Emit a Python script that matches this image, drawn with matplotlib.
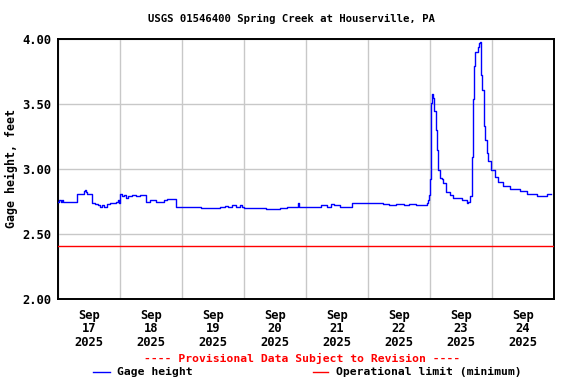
import matplotlib
matplotlib.use("Agg")
import matplotlib.pyplot as plt
from matplotlib.lines import Line2D

title = "USGS 01546400 Spring Creek at Houserville, PA"
ylabel = "Gage height, feet"
provisional = "---- Provisional Data Subject to Revision ----"
legend_labels = ["Gage height", "Operational limit (minimum)"]
day_labels = ["Sep\n17\n2025", "Sep\n18\n2025", "Sep\n19\n2025", "Sep\n20\n2025",
              "Sep\n21\n2025", "Sep\n22\n2025", "Sep\n23\n2025", "Sep\n24\n2025"]
yticks = [2.00, 2.50, 3.00, 3.50, 4.00]
op_limit = 2.41

# hours since Sep 17 00:00
hours = [0, 0.4, 1.2, 1.5, 2, 7.4, 7.5, 9.7, 10.0, 10.5, 10.8, 11.2, 13.0, 13.2, 14.3, 15.5,
         16.3, 17.0, 17.8, 19.0, 20.1, 21.3, 22.4, 23.2, 23.6, 24.0, 24.8, 25.5, 26.3, 27.1,
         28.6, 30.2, 31.7, 33.7, 33.9, 34.8, 35.6, 37.2, 37.9, 39.9, 41.0, 42.2, 45.5, 45.7,
         55.0, 55.4, 62.7, 64.5, 66.0, 67.5, 69.0, 70.5, 71.2, 72.0, 80.0, 80.4, 86.0, 88.5,
         92.9, 93.4, 96.0, 100.2, 102.0, 104.0, 105.5, 107.0, 109.0, 111.8, 114.0, 120.0,
         121.0, 125.8, 128.0, 131.0, 134.0, 136.0, 138.5, 140.0, 142.0, 142.8, 143.3, 143.6,
         143.9, 144.2, 144.4, 144.7, 145.1, 145.6, 146.2, 146.6, 147.2, 147.8, 148.5, 149.1,
         150.2, 151.7, 153.0, 156.2, 158.2, 158.7, 159.4, 160.1, 160.3, 160.7, 161.1, 161.6,
         162.4, 162.9, 163.3, 163.7, 164.3, 164.9, 165.0, 165.3, 165.9, 166.6, 167.8, 169.1,
         170.4, 172.3, 174.9, 178.8, 181.4, 185.3, 187.2, 189.1, 191.0]
gage = [2.75, 2.76, 2.75, 2.76, 2.745, 2.745, 2.81, 2.81, 2.83, 2.84, 2.82, 2.81, 2.81, 2.74,
        2.73, 2.72, 2.71, 2.72, 2.71, 2.73, 2.735, 2.74, 2.75, 2.76, 2.74, 2.81, 2.79, 2.80,
        2.78, 2.79, 2.80, 2.79, 2.80, 2.80, 2.745, 2.75, 2.76, 2.76, 2.75, 2.75, 2.76, 2.77,
        2.77, 2.705, 2.705, 2.70, 2.705, 2.715, 2.71, 2.72, 2.71, 2.72, 2.705, 2.70, 2.70,
        2.695, 2.70, 2.705, 2.735, 2.705, 2.705, 2.71, 2.72, 2.71, 2.73, 2.72, 2.71, 2.705,
        2.735, 2.735, 2.735, 2.73, 2.72, 2.73, 2.72, 2.73, 2.72, 2.72, 2.72, 2.74, 2.76,
        2.80, 2.92, 3.16, 3.51, 3.58, 3.55, 3.45, 3.30, 3.15, 2.99, 2.93, 2.92, 2.89, 2.82,
        2.80, 2.78, 2.76, 2.74, 2.75, 2.79, 2.86, 3.09, 3.54, 3.79, 3.90, 3.94, 3.97, 3.98,
        3.72, 3.61, 3.43, 3.33, 3.22, 3.12, 3.06, 2.99, 2.94, 2.90, 2.87, 2.85, 2.83, 2.81,
        2.795, 2.795, 2.81, 2.81]

fig = plt.figure(figsize=(5.76, 3.84), dpi=100)
ax = fig.add_axes([58/576, 1-299/384, (554-58)/576, (299-39)/384])

font = dict(family="DejaVu Sans Mono", weight="bold")

ax.plot(hours, gage, color="#0000ff", lw=1.0, drawstyle="steps-post", zorder=3)
ax.axhline(op_limit, color="#ff0000", lw=1.0, zorder=3)

ax.set_xlim(0, 192)
ax.set_ylim(2.0, 4.0)
ax.set_xticks(range(0, 193, 24))
ax.set_xticklabels([])
ax.set_xticks([12 + 24*i for i in range(len(day_labels))], minor=True)
ax.set_xticklabels(day_labels, minor=True, fontsize=8.7, linespacing=1.05, **font)
ax.tick_params(axis="x", which="both", length=0, pad=7)
ax.set_yticks(yticks)
ax.set_yticklabels([f"{v:.2f}" for v in yticks], fontsize=8.7, **font)
ax.tick_params(axis="y", length=0, pad=5)
ax.grid(True, which="major", color="#c8c8c8", lw=1.0, zorder=0)
for s in ax.spines.values():
    s.set_linewidth(1.4)
    s.set_color("black")
ax.set_ylabel(ylabel, fontsize=8.4, **font)
ax.yaxis.set_label_coords(-(58 - 18) / 496, 0.5)

fig.text(291.5/576, 1-19/384, title, ha="center", va="center", fontsize=7.7, **font)
fig.text(302/576, 1-358/384, provisional, ha="center", va="center", fontsize=8.2,
         color="#ff0000", **font)

ly = 1-372/384
fig.add_artist(Line2D([93/576, 110/576], [ly, ly], color="#0000ff", lw=1.0))
fig.text(117/576, ly, legend_labels[0], ha="left", va="center", fontsize=8.2, **font)
fig.add_artist(Line2D([313/576, 328/576], [ly, ly], color="#ff0000", lw=1.0))
fig.text(336/576, ly, legend_labels[1], ha="left", va="center", fontsize=8.2, **font)

fig.savefig("out.png", dpi=100)
